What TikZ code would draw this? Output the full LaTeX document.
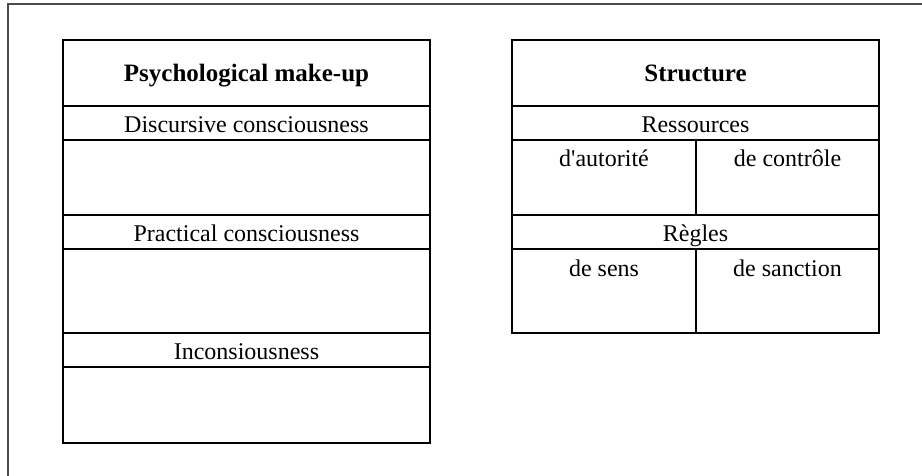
\documentclass[tikz,border=0pt]{standalone}
\usepackage{fontspec}
\setmainfont{Liberation Serif}
\begin{document}
\begin{tikzpicture}[x=1pt,y=-1pt]
\tikzset{
  cell/.style={draw=black, line width=1.3pt, inner sep=0pt, outer sep=0pt, fill=none},
  lab/.style={anchor=base, inner sep=0pt, font=\fontsize{24}{28}\selectfont},
  head/.style={anchor=base, inner sep=0pt, font=\fontsize{25}{29}\selectfont\bfseries},
  frameline/.style={draw=black!70, line width=1.3pt}
}
\useasboundingbox (0,0) rectangle (922,475);
% outer frame (top and left edges visible)
\coordinate (fbl) at (8,476);
\coordinate (ftl) at (8,4);
\coordinate (ftr) at (923,4);
\draw[frameline] (fbl) -- (ftl) -- (ftr);

% left table
\node[cell, minimum width=367pt, minimum height=66pt] (L1) at (246.5,73) {};
\node[cell, minimum width=367pt, minimum height=34pt] (L2) at (246.5,123) {};
\node[cell, minimum width=367pt, minimum height=75pt] (L3) at (246.5,177.5) {};
\node[cell, minimum width=367pt, minimum height=34pt] (L4) at (246.5,232) {};
\node[cell, minimum width=367pt, minimum height=84pt] (L5) at (246.5,291) {};
\node[cell, minimum width=367pt, minimum height=34pt] (L6) at (246.5,350) {};
\node[cell, minimum width=367pt, minimum height=76pt] (L7) at (246.5,405) {};

\node[head] (tL1) at (246.5,81.5) {Psychological make-up};
\node[lab] (tL2) at (246.5,132.5) {Discursive consciousness};
\node[lab] (tL4) at (246.5,241.8) {Practical consciousness};
\node[lab] (tL6) at (246.5,359.5) {Inconsiousness};

% right table
\node[cell, minimum width=367pt, minimum height=66pt] (R1) at (695.5,73) {};
\node[cell, minimum width=367pt, minimum height=34pt] (R2) at (695.5,123) {};
\node[cell, minimum width=184pt, minimum height=75pt] (R3a) at (604,177.5) {};
\node[cell, minimum width=183pt, minimum height=75pt] (R3b) at (787.5,177.5) {};
\node[cell, minimum width=367pt, minimum height=34pt] (R4) at (695.5,232) {};
\node[cell, minimum width=184pt, minimum height=84pt] (R5a) at (604,291) {};
\node[cell, minimum width=183pt, minimum height=84pt] (R5b) at (787.5,291) {};

\node[head] (tR1) at (695.5,81.5) {Structure};
\node[lab] (tR2) at (695.5,132.5) {Ressources};
\node[lab] (tR3a) at (604,166.5) {d\textquotesingle autorité};
\node[lab] (tR3b) at (787.5,166.5) {de contrôle};
\node[lab] (tR4) at (695.5,241.8) {Règles};
\node[lab] (tR5a) at (604,276) {de sens};
\node[lab] (tR5b) at (787.5,276) {de sanction};
\end{tikzpicture}
\end{document}
